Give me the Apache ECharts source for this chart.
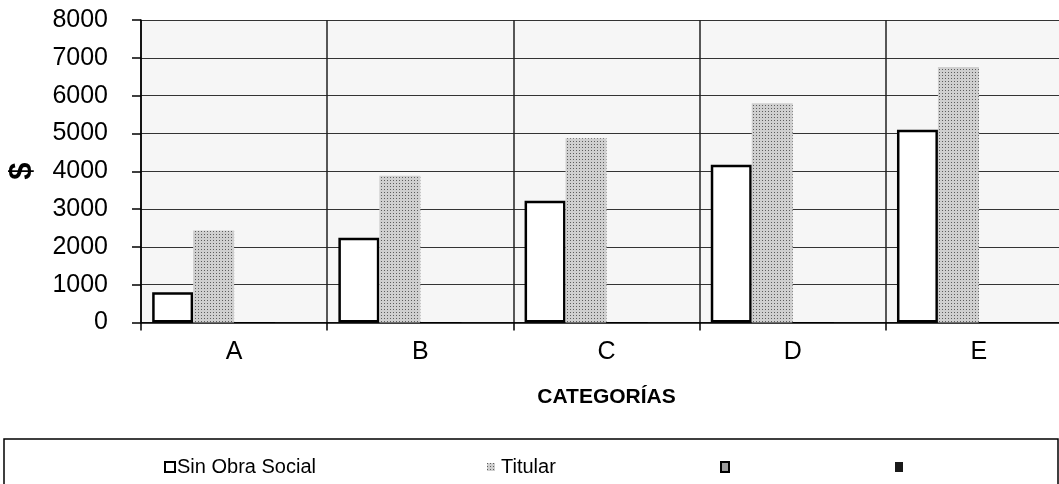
<!DOCTYPE html>
<html>
<head>
<meta charset="utf-8">
<script src="https://cdn.jsdelivr.net/npm/echarts@6/dist/echarts.min.js"></script>
<style>
html,body{margin:0;padding:0;background:#fff;}
#chart{width:1059px;height:484px;}
</style>
</head>
<body>
<div id="chart"></div>
<script>
var categories = ['A', 'B', 'C', 'D', 'E'];
var sinObraSocial = [800, 2240, 3220, 4170, 5100];
var titular = [2430, 3880, 4870, 5800, 6760];
var serie3 = [0, 0, 0, 0, 0];
var serie4 = [0, 0, 0, 0, 0];
var yTicks = [0, 1000, 2000, 3000, 4000, 5000, 6000, 7000, 8000];

var FONT = '"Liberation Sans", Arial, sans-serif';
var chart = echarts.init(document.getElementById('chart'));

var option = {
  animation: false,
  backgroundColor: '#ffffff',
  grid: {
    left: 141, top: 20, width: 931, height: 302.5,
    containLabel: false, outerBoundsMode: 'none',
    show: true, backgroundColor: '#f6f6f6', borderWidth: 0
  },
  xAxis: {
    type: 'category',
    data: categories,
    name: 'CATEGORÍAS',
    nameLocation: 'middle',
    nameGap: 64,
    nameTextStyle: { fontFamily: FONT, fontSize: 21, fontWeight: 'bold', color: '#000', verticalAlign: 'top' },
    axisLine: { lineStyle: { color: '#000', width: 1.5 } },
    axisTick: { show: true, length: 8, lineStyle: { color: '#000', width: 1.5 } },
    axisLabel: { fontFamily: FONT, fontSize: 25, color: '#000', margin: 17 },
    splitLine: { show: true, lineStyle: { color: '#222', width: 1.5 } }
  },
  yAxis: {
    type: 'value',
    min: yTicks[0],
    max: yTicks[yTicks.length - 1],
    interval: 1000,
    name: '$',
    nameLocation: 'middle',
    nameRotate: 90,
    nameGap: 103,
    nameTextStyle: { fontFamily: FONT, fontSize: 31, fontWeight: 'bold', color: '#000' },
    axisLine: { show: true, lineStyle: { color: '#000', width: 1.5 } },
    axisTick: { show: true, length: 9, lineStyle: { color: '#000', width: 1.5 } },
    axisLabel: { fontFamily: FONT, fontSize: 25, color: '#000', margin: 33,
      formatter: function (v) { return String(v); } },
    splitLine: { show: true, lineStyle: { color: '#333', width: 1.2 } }
  },
  legend: [
    { data: ['Sin Obra Social'], left: 159, top: 452, itemWidth: 10, itemHeight: 10, icon: 'rect',
      textStyle: { fontFamily: FONT, fontSize: 20, color: '#000', padding: [0, 0, 0, -3] } },
    { data: ['Titular'], left: 482, top: 452, itemWidth: 8, itemHeight: 8, icon: 'rect',
      textStyle: { fontFamily: FONT, fontSize: 20, color: '#000', padding: [0, 0, 0, 1] } },
    { data: [' '], left: 715, top: 452, itemWidth: 8, itemHeight: 10, icon: 'rect',
      textStyle: { fontFamily: FONT, fontSize: 20, color: '#000' } },
    { data: ['  '], left: 890, top: 452, itemWidth: 8, itemHeight: 10, icon: 'rect',
      textStyle: { fontFamily: FONT, fontSize: 20, color: '#000' } }
  ],
  graphic: [
    { type: 'rect', shape: { x: 4, y: 439, width: 1054, height: 70 },
      style: { fill: 'none', stroke: '#000', lineWidth: 1.5 }, silent: true }
  ],
  series: [
    { name: 'Sin Obra Social', type: 'bar', data: sinObraSocial,
      barGap: '0%', barCategoryGap: '12%',
      itemStyle: { color: '#ffffff', borderColor: '#000', borderWidth: 2.5 } },
    { name: 'Titular', type: 'bar', data: titular,
      itemStyle: { color: '#cfcfcf',
        decal: { symbol: 'rect', symbolSize: 1, dashArrayX: [1, 2], dashArrayY: [1, 2], color: 'rgba(0,0,0,0.55)', rotation: 0 } } },
    { name: ' ', type: 'bar', data: serie3,
      itemStyle: { color: '#9a9a9a', borderColor: '#000', borderWidth: 1 } },
    { name: '  ', type: 'bar', data: serie4,
      itemStyle: { color: '#1a1a1a' } }
  ]
};
chart.setOption(option);
</script>
</body>
</html>
